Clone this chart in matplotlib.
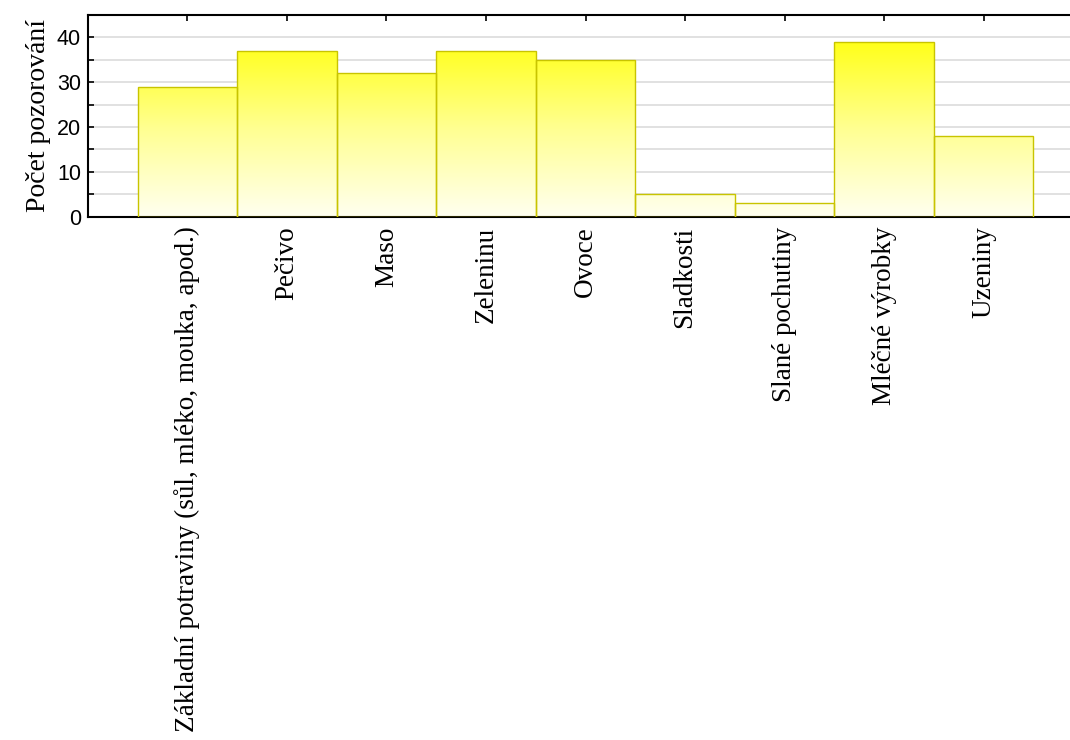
import numpy as np
import matplotlib.pyplot as plt
from matplotlib.colors import LinearSegmentedColormap

categories = ['Základní potraviny (sůl, mléko, mouka, apod.)', 'Pečivo', 'Maso',
              'Zeleninu', 'Ovoce', 'Sladkosti', 'Slané pochutiny', 'Mléčné výrobky',
              'Uzeniny']
counts = [29, 37, 32, 37, 35, 5, 3, 39, 18]

fig = plt.figure(figsize=(10.7, 7.4), dpi=100)
ax = fig.add_axes([0.0822, 0.7072, 0.93, 0.2725])

cmap = LinearSegmentedColormap.from_list('yel', ['#fffff0', '#ffff90', '#ffff14'])
x = np.arange(len(categories))
bars = ax.bar(x, counts, width=1.0, facecolor='none', edgecolor='#c8c400',
              linewidth=1.0, zorder=3)
for b, h in zip(bars, counts):
    grad = np.linspace(0, h, 200).reshape(-1, 1)
    im = ax.imshow(grad, cmap=cmap, vmin=0, vmax=40, origin='lower', aspect='auto',
                   extent=(b.get_x(), b.get_x() + b.get_width(), 0, h), zorder=2)
    im.set_clip_path(b)

ax.set_xlim(-1, 9)
ax.set_ylim(0, 45)
ax.set_yticks([0, 10, 20, 30, 40])
ax.set_yticks([5, 15, 25, 35], minor=True)
for g in range(5, 45, 5):
    ax.axhline(g, color='#dcdcdc', lw=1.2, zorder=1)

ax.set_xticks(x)
ax.set_xticklabels(categories, rotation=90, fontsize=19.5, family='Liberation Serif')
ax.tick_params(axis='x', direction='in', top=True, length=4, width=1.2, pad=7)
ax.tick_params(axis='y', which='both', direction='in', length=4, width=1.2, pad=5,
               labelsize=15.5)
for lab in ax.get_yticklabels():
    lab.set_family('Liberation Sans')
ax.set_ylabel('Počet pozorování', fontsize=20, family='Liberation Serif', labelpad=4)

for s in ['left', 'top', 'bottom']:
    ax.spines[s].set_linewidth(1.5)
ax.spines['right'].set_visible(False)

fig.savefig('out.png', dpi=100)
